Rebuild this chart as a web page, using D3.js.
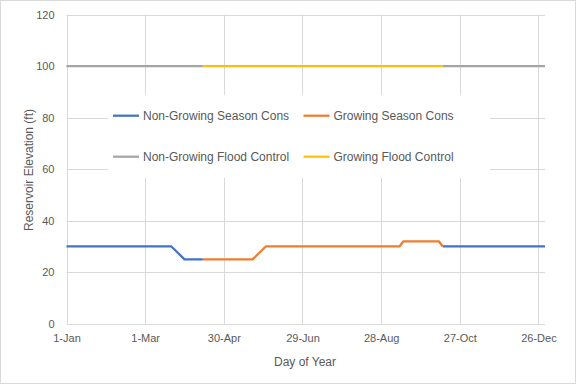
<!DOCTYPE html>
<html>
<head>
<meta charset="utf-8">
<script src="https://cdn.jsdelivr.net/npm/d3@7"></script>
<style>
  body { margin: 0; background: #fff; }
  text { font-family: "Liberation Sans", Arial, sans-serif; fill: #595959; }
</style>
</head>
<body>
<svg width="576" height="384"></svg>
<script>
// day of year offsets (0 = 1-Jan), null = break in line
const tickDays = [0, 60, 120, 180, 240, 300, 360];
const tickLabels = ["1-Jan", "1-Mar", "30-Apr", "29-Jun", "28-Aug", "27-Oct", "26-Dec"];
const yTicks = [0, 20, 40, 60, 80, 100, 120];

const nonGrowConsDays = [0, 80, 90, 104, null, 287, 365];
const nonGrowConsElev = [30, 30, 25, 25, null, 30, 30];
const growConsDays = [104, 142, 152, 254, 257, 284, 287];
const growConsElev = [25, 25, 30, 30, 32, 32, 30];
const nonGrowFloodDays = [0, 104, null, 287, 365];
const nonGrowFloodElev = [100, 100, null, 100, 100];
const growFloodDays = [104, 287];
const growFloodElev = [100, 100];

const seriesNames = ["Non-Growing Season Cons", "Growing Season Cons", "Non-Growing Flood Control", "Growing Flood Control"];
const colors = ["#4472C4", "#ED7D31", "#A5A5A5", "#FFC000"];

const svg = d3.select("svg");
const width = +svg.attr("width");
const height = +svg.attr("height");
const margin = {top: 14.7, right: 31, bottom: 60.3, left: 66.5};

const x = d3.scaleLinear().domain([0, 365]).range([margin.left, width - margin.right]);
const y = d3.scaleLinear().domain([0, 120]).range([height - margin.bottom, margin.top]);

// chart border
svg.append("rect")
  .attr("x", 0.5).attr("y", 0.5)
  .attr("width", width - 1).attr("height", height - 1)
  .attr("fill", "#fff").attr("stroke", "#D9D9D9");

// gridlines
const grid = svg.append("g").attr("stroke", "#D9D9D9").attr("stroke-width", 1);
grid.selectAll(".h").data(yTicks.slice(1)).join("line")
  .attr("x1", x(0)).attr("x2", x(365))
  .attr("y1", d => Math.round(y(d)) + 0.5).attr("y2", d => Math.round(y(d)) + 0.5);
grid.selectAll(".v").data(tickDays).join("line")
  .attr("x1", d => Math.round(x(d)) + 0.5).attr("x2", d => Math.round(x(d)) + 0.5)
  .attr("y1", y(120)).attr("y2", y(0));

// x axis
const xAxis = svg.append("g")
  .attr("transform", `translate(0,${Math.round(y(0)) + 0.5})`)
  .call(d3.axisBottom(x).tickValues(tickDays).tickSize(0).tickPadding(10)
    .tickFormat((d, i) => tickLabels[i]));
xAxis.select(".domain").attr("stroke", "#D9D9D9").attr("d", `M${x(0)},0H${x(365)}`);
xAxis.selectAll("text").style("font-size", "11px").attr("fill", "#595959");

// y axis
const yAxis = svg.append("g")
  .attr("transform", `translate(${margin.left},0)`)
  .call(d3.axisLeft(y).tickValues(yTicks).tickSize(0).tickPadding(12));
yAxis.select(".domain").remove();
yAxis.selectAll("text").style("font-size", "11px").attr("fill", "#595959");

// axis titles
svg.append("text")
  .attr("x", 305).attr("y", 366)
  .attr("text-anchor", "middle").style("font-size", "12px")
  .text("Day of Year");
svg.append("text")
  .attr("transform", "translate(33,170) rotate(-90)")
  .attr("text-anchor", "middle").style("font-size", "12px")
  .text("Reservoir Elevation (ft)");

// legend box (white, hides gridlines)
const legend = svg.append("g");
legend.append("rect")
  .attr("x", 108).attr("y", 95).attr("width", 382).attr("height", 83)
  .attr("fill", "#fff");
const legendPos = [[113, 115.7], [303.5, 115.7], [113, 156.7], [303.5, 156.7]];
seriesNames.forEach((name, i) => {
  const [lx, ly] = legendPos[i];
  legend.append("line")
    .attr("x1", lx).attr("x2", lx + 26).attr("y1", ly).attr("y2", ly)
    .attr("stroke", colors[i]).attr("stroke-width", 2.25);
  legend.append("text")
    .attr("x", lx + 30).attr("y", ly).attr("dy", "0.35em")
    .style("font-size", "12px")
    .text(name);
});

// series lines
const seriesData = [
  d3.zip(nonGrowConsDays, nonGrowConsElev),
  d3.zip(growConsDays, growConsElev),
  d3.zip(nonGrowFloodDays, nonGrowFloodElev),
  d3.zip(growFloodDays, growFloodElev)
];
const line = d3.line()
  .defined(d => d[0] !== null)
  .x(d => x(d[0]))
  .y(d => y(d[1]));

svg.append("g")
  .selectAll("path")
  .data(seriesData)
  .join("path")
  .attr("fill", "none")
  .attr("stroke", (d, i) => colors[i])
  .attr("stroke-width", 2.25)
  .attr("stroke-linejoin", "round")
  .attr("d", line);
</script>
</body>
</html>
